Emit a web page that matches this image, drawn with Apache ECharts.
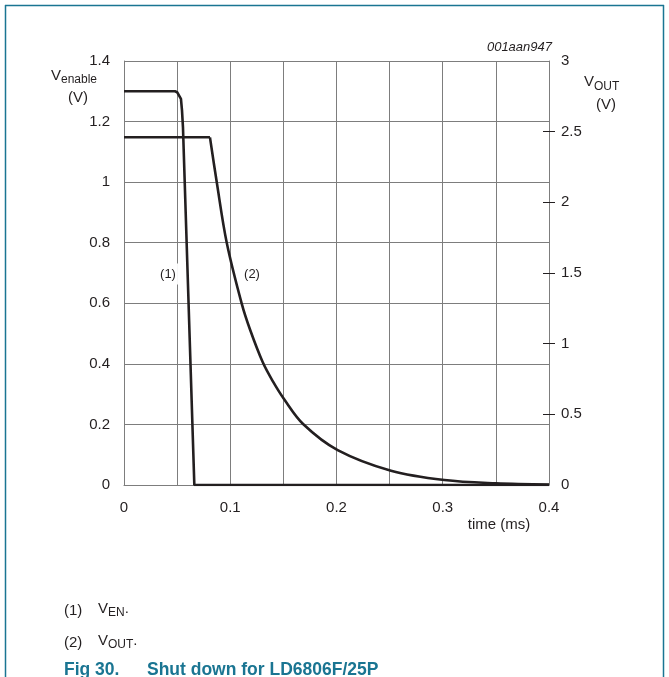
<!DOCTYPE html>
<html>
<head>
<meta charset="utf-8">
<script src="https://cdn.jsdelivr.net/npm/echarts@6/dist/echarts.min.js"></script>
<style>
html,body{margin:0;padding:0;background:#fff;}
#c{width:669px;height:677px;}
</style>
</head>
<body>
<div id="c"></div>
<script>
// time (ms) and voltages
const enTime = [0, 0.048, 0.050, 0.0518, 0.0536, 0.0546, 0.0555, 0.0605, 0.0662, 0.4];
const enVolt = [1.30, 1.30, 1.297, 1.291, 1.275, 1.236, 1.181, 0.63, 0, 0];
const outTime = [0, 0.0809, 0.0872, 0.0967, 0.1108, 0.1186, 0.1305, 0.1400, 0.1509, 0.1688, 0.2011, 0.2513, 0.3015, 0.35, 0.4];
const outVolt = [2.46, 2.46, 2.147, 1.714, 1.283, 1.10, 0.87, 0.735, 0.605, 0.43, 0.247, 0.101, 0.035, 0.012, 0.004];
const outCornerIndex = 1; // where the flat part ends and the decay starts
const rightTicks = [0.5, 1, 1.5, 2, 2.5];

const FONT = '"Liberation Sans", Arial, sans-serif';
const TXT = '#231f20';
const GRID = '#7d7d7d';
const TEAL = '#1a7592';

const chart = echarts.init(document.getElementById('c'), null, {renderer: 'canvas'});

const labelStyle = {fontFamily: FONT, fontSize: 15, color: TXT};
const outPairs = outTime.map((t, i) => [t, outVolt[i]]);

chart.setOption({
  animation: false,
  backgroundColor: '#fff',
  grid: {left: 124, top: 61, width: 425, height: 424, containLabel: false},
  xAxis: {
    type: 'value', min: 0, max: 0.4, interval: 0.05,
    axisLine: {show: true, lineStyle: {color: GRID, width: 1}},
    axisTick: {show: false},
    splitLine: {show: true, lineStyle: {color: GRID, width: 1}},
    axisLabel: Object.assign({
      margin: 15,
      formatter: function (v) {
        const k = Math.round(v * 100);
        return (k % 10 === 0) ? String(k / 100) : '';
      }
    }, labelStyle)
  },
  yAxis: [
    {
      type: 'value', min: 0, max: 1.4, interval: 0.2, position: 'left',
      axisLine: {show: true, lineStyle: {color: GRID, width: 1}},
      axisTick: {show: false},
      splitLine: {show: true, lineStyle: {color: GRID, width: 1}},
      axisLabel: Object.assign({margin: 14}, labelStyle)
    },
    {
      type: 'value', min: 0, max: 3, interval: 0.5, position: 'right',
      axisLine: {show: true, lineStyle: {color: GRID, width: 1}},
      axisTick: {show: true, length: 6, customValues: rightTicks, lineStyle: {color: TXT, width: 1}},
      splitLine: {show: false},
      axisLabel: Object.assign({margin: 12}, labelStyle)
    },
    {
      type: 'value', min: 0, max: 3, interval: 0.5, position: 'right',
      axisLine: {show: false},
      axisTick: {show: true, inside: true, length: 6, customValues: rightTicks, lineStyle: {color: TXT, width: 1}},
      splitLine: {show: false},
      axisLabel: {show: false}
    }
  ],
  series: [
    {
      name: 'VEN', type: 'line', yAxisIndex: 0, showSymbol: false, symbol: 'none',
      data: enTime.map((t, i) => [t, enVolt[i]]),
      lineStyle: {color: TXT, width: 2.6}, z: 5
    },
    {
      name: 'VOUT', type: 'line', yAxisIndex: 1, showSymbol: false, symbol: 'none',
      data: outPairs.slice(0, outCornerIndex + 1),
      lineStyle: {color: TXT, width: 2.6}, z: 5
    },
    {
      name: 'VOUT decay', type: 'line', yAxisIndex: 1, showSymbol: false, symbol: 'none',
      smooth: 0.35,
      data: outPairs.slice(outCornerIndex),
      lineStyle: {color: TXT, width: 2.6}, z: 5
    }
  ],
  graphic: [
    // frame
    {type: 'line', shape: {x1: 5, y1: 5.5, x2: 664, y2: 5.5}, style: {stroke: TEAL, lineWidth: 1.5}, silent: true},
    {type: 'line', shape: {x1: 5.5, y1: 5, x2: 5.5, y2: 677}, style: {stroke: TEAL, lineWidth: 1.5}, silent: true},
    {type: 'line', shape: {x1: 663.5, y1: 5, x2: 663.5, y2: 677}, style: {stroke: TEAL, lineWidth: 1.5}, silent: true},
    // id
    {type: 'text', x: 552, y: 47, style: {text: '001aan947', fontFamily: FONT, fontSize: 13, fontStyle: 'italic', fill: TXT, align: 'right', verticalAlign: 'middle'}, silent: true},
    // left axis title
    {type: 'text', x: 51, y: 86, style: {
      text: '{v|V}{s|enable}', fontFamily: FONT, fill: TXT, align: 'left', verticalAlign: 'bottom',
      rich: {v: {fontFamily: FONT, fontSize: 15, fill: TXT, verticalAlign: 'bottom', padding: [0, 0, 3, 0]},
             s: {fontFamily: FONT, fontSize: 12, fill: TXT, verticalAlign: 'bottom'}}
    }, silent: true},
    {type: 'text', x: 78, y: 98, style: {text: '(V)', fontFamily: FONT, fontSize: 15, fill: TXT, align: 'center', verticalAlign: 'middle'}, silent: true},
    // right axis title
    {type: 'text', x: 584, y: 93, style: {
      text: '{v|V}{s|OUT}', fontFamily: FONT, fill: TXT, align: 'left', verticalAlign: 'bottom',
      rich: {v: {fontFamily: FONT, fontSize: 15, fill: TXT, verticalAlign: 'bottom', padding: [0, 0, 4, 0]},
             s: {fontFamily: FONT, fontSize: 12, fill: TXT, verticalAlign: 'bottom'}}
    }, silent: true},
    {type: 'text', x: 606, y: 105, style: {text: '(V)', fontFamily: FONT, fontSize: 15, fill: TXT, align: 'center', verticalAlign: 'middle'}, silent: true},
    // x axis title
    {type: 'text', x: 499, y: 525, style: {text: 'time (ms)', fontFamily: FONT, fontSize: 15, fill: TXT, align: 'center', verticalAlign: 'middle'}, silent: true},
    // curve labels
    {type: 'text', x: 168, y: 274, z: 10, style: {text: '(1)', fontFamily: FONT, fontSize: 13, fill: TXT, align: 'center', verticalAlign: 'middle', backgroundColor: '#fff', padding: [4, 2, 4, 2]}, silent: true},
    {type: 'text', x: 252, y: 274, z: 10, style: {text: '(2)', fontFamily: FONT, fontSize: 13, fill: TXT, align: 'center', verticalAlign: 'middle', backgroundColor: '#fff', padding: [2, 2, 2, 2]}, silent: true},
    // notes
    {type: 'text', x: 64, y: 611, style: {text: '(1)', fontFamily: FONT, fontSize: 15, fill: TXT, align: 'left', verticalAlign: 'middle'}, silent: true},
    {type: 'text', x: 98, y: 619, style: {
      text: '{v|V}{s|EN}{v|.}', fontFamily: FONT, fill: TXT, align: 'left', verticalAlign: 'bottom',
      rich: {v: {fontFamily: FONT, fontSize: 15, fill: TXT, verticalAlign: 'bottom', padding: [0, 0, 3, 0]},
             s: {fontFamily: FONT, fontSize: 12, fill: TXT, verticalAlign: 'bottom'}}
    }, silent: true},
    {type: 'text', x: 64, y: 643, style: {text: '(2)', fontFamily: FONT, fontSize: 15, fill: TXT, align: 'left', verticalAlign: 'middle'}, silent: true},
    {type: 'text', x: 98, y: 651, style: {
      text: '{v|V}{s|OUT}{v|.}', fontFamily: FONT, fill: TXT, align: 'left', verticalAlign: 'bottom',
      rich: {v: {fontFamily: FONT, fontSize: 15, fill: TXT, verticalAlign: 'bottom', padding: [0, 0, 3, 0]},
             s: {fontFamily: FONT, fontSize: 12, fill: TXT, verticalAlign: 'bottom'}}
    }, silent: true},
    {type: 'text', x: 64, y: 670, style: {text: 'Fig 30.', fontFamily: FONT, fontSize: 17.5, fontWeight: 'bold', fill: TEAL, align: 'left', verticalAlign: 'middle'}, silent: true},
    {type: 'text', x: 147, y: 670, style: {text: 'Shut down for LD6806F/25P', fontFamily: FONT, fontSize: 17.5, fontWeight: 'bold', fill: TEAL, align: 'left', verticalAlign: 'middle'}, silent: true}
  ]
});
</script>
</body>
</html>
